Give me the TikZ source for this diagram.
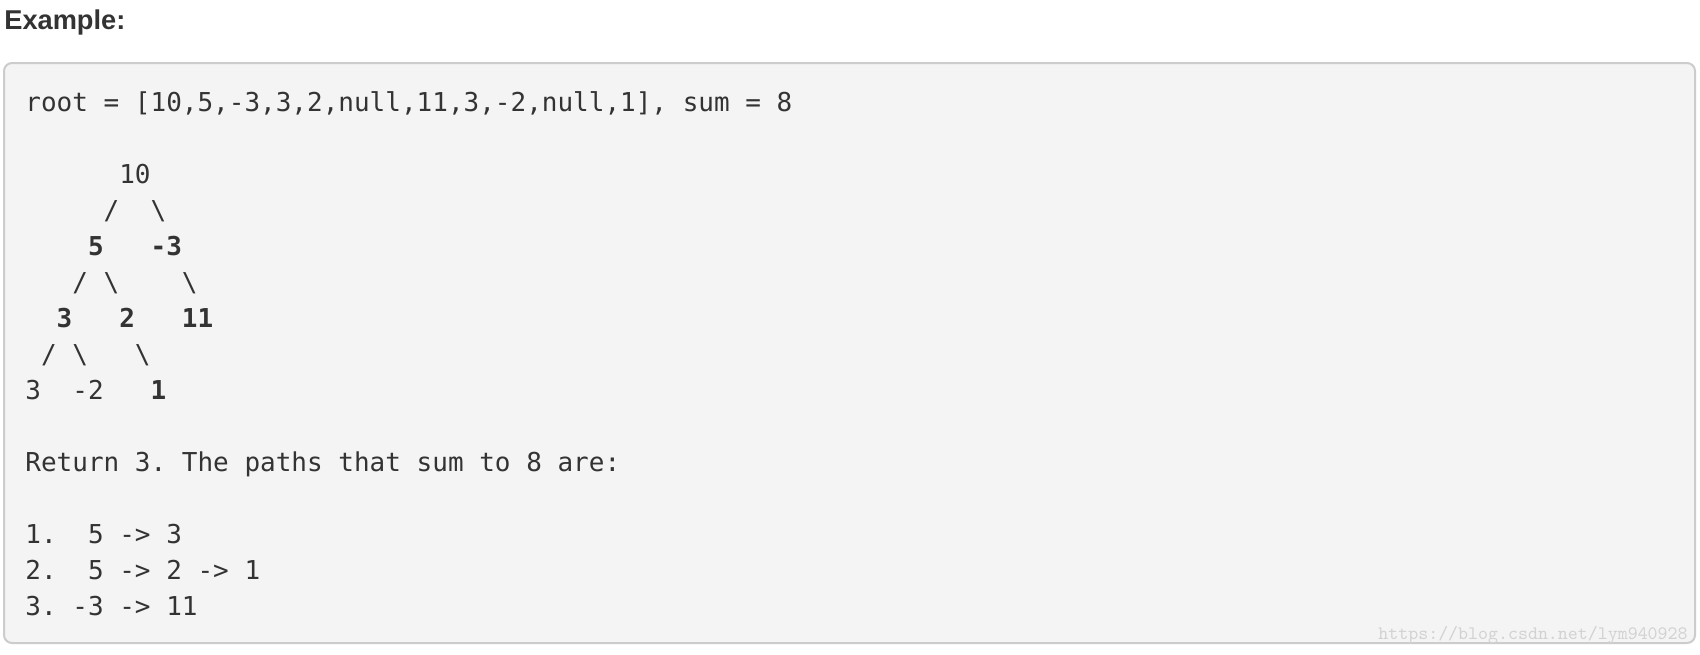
\documentclass[tikz,border=0pt]{standalone}
\usepackage{fontspec}
\newfontfamily\codefont{DejaVu Sans Mono}
\newfontfamily\headfont{Liberation Sans}
\definecolor{ink}{HTML}{333333}
\definecolor{boxfill}{HTML}{F4F4F4}
\definecolor{boxline}{HTML}{CCCCCC}
\definecolor{mark}{HTML}{D2D2D2}

\begin{document}
\begin{tikzpicture}[x=0.5pt, y=-0.5pt]
	\tikzstyle{Code} = [anchor=base west, inner sep=0pt, text=ink, font=\codefont\fontsize{13pt}{13pt}\selectfont]
	\tikzstyle{Head} = [anchor=base west, inner sep=0pt, text=ink, font=\headfont\bfseries\fontsize{13.6pt}{13.6pt}\selectfont]
	
	\useasboundingbox [fill=white] (0,0) rectangle (1700,654);
	\node (head) [Head] at (4,29) {Example:};
	\draw [boxline, fill=boxfill, line width=1pt, rounded corners=4pt] (4,63) rectangle (1695,643);
	
	% input
	\node (root) [Code] at (25,111) {root~=~[10,5,-3,3,2,null,11,3,-2,null,1],~sum~=~8};
	
	% tree
	\node (t0) [Code] at (25,183) {~~~~~~10};
	\node (t1) [Code] at (25,219) {~~~~~/~~\textbackslash};
	\node (t2) [Code] at (25,255) {~~~~\textbf{5}~~~\textbf{-3}};
	\node (t3) [Code] at (25,291) {~~~/~\textbackslash~~~~\textbackslash};
	\node (t4) [Code] at (25,327) {~~\textbf{3}~~~\textbf{2}~~~\textbf{11}};
	\node (t5) [Code] at (25,363) {~/~\textbackslash~~~\textbackslash};
	\node (t6) [Code] at (25,399) {3~~-2~~~\textbf{1}};
	
	% answer
	\node (ret) [Code] at (25,471) {Return~3.~The~paths~that~sum~to~8~are:};
	\node (p1) [Code] at (25,543) {1.~~5~->~3};
	\node (p2) [Code] at (25,579) {2.~~5~->~2~->~1};
	\node (p3) [Code] at (25,615) {3.~-3~->~11};
	
	\node (wm) [anchor=base east, inner sep=0pt, text=mark, font=\ttfamily\fontsize{9.5pt}{9.5pt}\selectfont] at (1688,639) {https://blog.csdn.net/lym940928};
\end{tikzpicture}
\end{document}
